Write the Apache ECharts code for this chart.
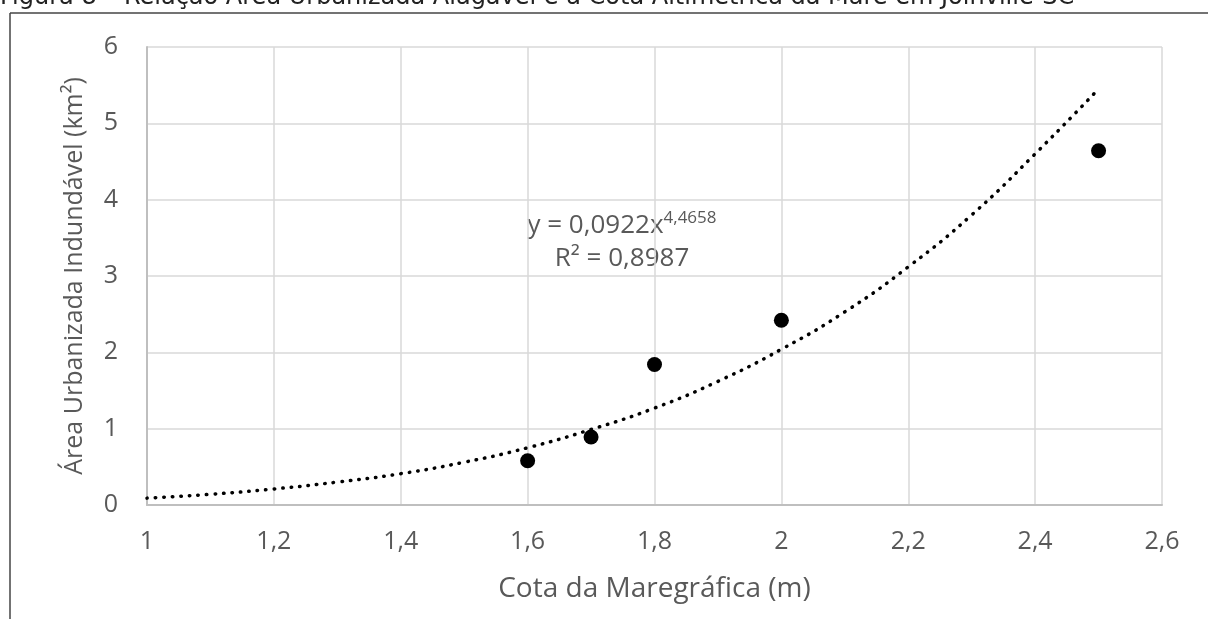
<!DOCTYPE html>
<html>
<head>
<meta charset="utf-8">
<script src="https://cdn.jsdelivr.net/npm/echarts@6/dist/echarts.min.js"></script>
<style>html,body{margin:0;padding:0;background:#fff}#c{width:1208px;height:619px}</style>
</head>
<body>
<div id="c"></div>
<script>
// Observed points
const pointsX = [1.6, 1.7, 1.8, 2.0, 2.5];
const pointsY = [0.58, 0.89, 1.84, 2.42, 4.64];
// Trend line values
const trendX = [1.0, 1.1, 1.2, 1.3, 1.4, 1.5, 1.6, 1.7, 1.8, 1.9, 2.0, 2.1, 2.2, 2.3, 2.4, 2.5];
const trendY = [0.09, 0.14, 0.21, 0.30, 0.41, 0.56, 0.75, 0.99, 1.27, 1.62, 2.04, 2.53, 3.12, 3.80, 4.60, 5.45];
const xTicks = [1, 1.2, 1.4, 1.6, 1.8, 2, 2.2, 2.4, 2.6];
const yTicks = [0, 1, 2, 3, 4, 5, 6];
const titleText = 'Figura 8 – Relação Área Urbanizada Alagável e a Cota Altimétrica da Maré em Joinville-SC';
const xName = 'Cota da Maregráfica (m)';
const yName = 'Área Urbanizada Indundável (km²)';

const chart = echarts.init(document.getElementById('c'));
const gray = '#595959';
const fontFam = '"Open Sans", "Noto Sans", sans-serif';
chart.setOption({
  animation: false,
  grid: {left: 147, right: 46, top: 47, bottom: 114},
  xAxis: {
    type: 'value', min: xTicks[0], max: xTicks[xTicks.length-1], interval: 0.2,
    name: xName, nameLocation: 'middle', nameGap: 70,
    nameTextStyle: {color: gray, fontSize: 28, fontFamily: fontFam},
    axisLine: {show: true, lineStyle: {color: '#bfbfbf', width: 2}},
    axisTick: {show: false},
    axisLabel: {color: gray, fontSize: 25, fontFamily: fontFam, margin: 24,
      formatter: v => String(Math.round(v*10)/10).replace('.', ',')},
    splitLine: {show: true, lineStyle: {color: '#d9d9d9', width: 1.5}}
  },
  yAxis: {
    type: 'value', min: yTicks[0], max: yTicks[yTicks.length-1], interval: 1,
    name: yName, nameLocation: 'middle', nameGap: 60,
    nameTextStyle: {color: gray, fontSize: 25, fontFamily: fontFam},
    axisLine: {show: true, lineStyle: {color: '#bfbfbf', width: 2}},
    axisTick: {show: false},
    axisLabel: {color: gray, fontSize: 25, fontFamily: fontFam, margin: 29},
    splitLine: {show: true, lineStyle: {color: '#d9d9d9', width: 1.5}}
  },
  series: [
    {
      type: 'line', data: trendX.map((x, i) => [x, trendY[i]]), smooth: true,
      showSymbol: false, z: 2,
      lineStyle: {color: '#000', width: 3.5, type: [0.5, 8], cap: 'round'}
    },
    {
      type: 'scatter', data: pointsX.map((x, i) => [x, pointsY[i]]),
      symbolSize: 15, itemStyle: {color: '#000', opacity: 1}, z: 3
    }
  ],
  graphic: [
    {type: 'text', x: 0, y: 10, style: {text: titleText, fontSize: 24, fill: '#222', verticalAlign: 'bottom', fontFamily: '"DejaVu Sans", sans-serif'}},
    {type: 'line', shape: {x1: 10, y1: 13, x2: 1208, y2: 13}, style: {stroke: '#444', lineWidth: 1.5}},
    {type: 'line', shape: {x1: 10, y1: 13, x2: 10, y2: 619}, style: {stroke: '#444', lineWidth: 1.5}},
    {type: 'text', x: 622, y: 224, style: {
      text: '{a|y = 0,0922x}{b|4,4658}', align: 'center', verticalAlign: 'middle',
      rich: {a: {fontSize: 26, fill: gray, fontFamily: fontFam, verticalAlign: 'bottom'},
             b: {fontSize: 17, fill: gray, fontFamily: fontFam, verticalAlign: 'top', padding: [0,0,12,0]}}
    }},
    {type: 'text', x: 622, y: 259, style: {text: 'R² = 0,8987', align: 'center', verticalAlign: 'middle', fontSize: 26, fill: gray, fontFamily: fontFam}}
  ]
});
</script>
</body>
</html>
